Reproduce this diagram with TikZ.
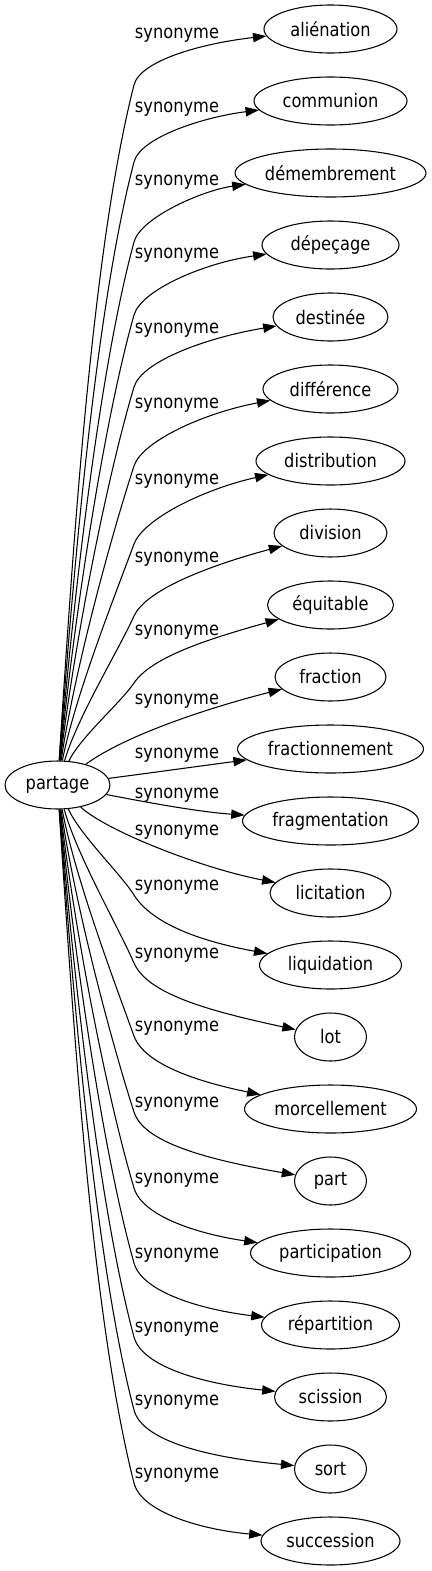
\documentclass[tikz,border=0pt]{standalone}
\usepackage{fontspec}
\setmainfont{DejaVu Sans}[FakeStretch=0.87]
\usetikzlibrary{shapes.geometric,arrows.meta}
\begin{document}
\begin{tikzpicture}[x=0.75pt,y=-0.75pt,
  ell/.style={ellipse,draw,line width=0.8pt,minimum height=36pt,inner sep=0pt,font=\fontsize{14pt}{16pt}\selectfont},
  lab/.style={inner sep=0pt,font=\fontsize{14pt}{16pt}\selectfont},
  syn/.style={draw,line width=0.8pt,-{Triangle[length=10pt,width=7pt]}}]
\useasboundingbox (0,0) rectangle (432,1571);
\node[ell,minimum width=78.75pt] (p) at (57.5,785) {partage};
\node[ell,minimum width=99.75pt] (alienation) at (330.5,29) {aliénation};
\node[ell,minimum width=114.75pt] (communion) at (330.5,101) {communion};
\node[ell,minimum width=143.25pt] (demembrement) at (330.5,173) {démembrement};
\node[ell,minimum width=102.75pt] (depecage) at (330.5,245) {dépeçage};
\node[ell,minimum width=86.25pt] (destinee) at (330.5,317) {destinée};
\node[ell,minimum width=101.25pt] (difference) at (330.5,389) {différence};
\node[ell,minimum width=111.75pt] (distribution) at (330.5,461) {distribution};
\node[ell,minimum width=84.75pt] (division) at (330.5,533) {division};
\node[ell,minimum width=94.5pt] (equitable) at (330.5,605) {équitable};
\node[ell,minimum width=83.25pt] (fraction) at (330.5,677) {fraction};
\node[ell,minimum width=139.5pt] (fractionnement) at (330.5,749) {fractionnement};
\node[ell,minimum width=132pt] (fragmentation) at (330.5,821) {fragmentation};
\node[ell,minimum width=90.75pt] (licitation) at (330.5,893) {licitation};
\node[ell,minimum width=106.5pt] (liquidation) at (330.5,965) {liquidation};
\node[ell,minimum width=54pt] (lot) at (330.5,1037) {lot};
\node[ell,minimum width=129pt] (morcellement) at (330.5,1109) {morcellement};
\node[ell,minimum width=54pt] (part) at (330.5,1181) {part};
\node[ell,minimum width=120pt] (participation) at (330.5,1253) {participation};
\node[ell,minimum width=103.5pt] (repartition) at (330.5,1325) {répartition};
\node[ell,minimum width=84pt] (scission) at (330.5,1397) {scission};
\node[ell,minimum width=54pt] (sort) at (330.5,1469) {sort};
\node[ell,minimum width=104.25pt] (succession) at (330.5,1541) {succession};
% upper edges
\foreach \tn/\lb/\qK in {alienation/33/85, communion/107/162, demembrement/180/242, depecage/253/315, destinee/328/387, difference/403/466, distribution/479/544, division/557/616, equitable/630/683}{
  \pgfmathsetmacro\qD{761-\qK}
  \pgfmathsetmacro\qm{74/\qD}
  \pgfmathsetmacro\qs{\qm*(0.5+0.4*min(1,100/\qD))}
  \pgfmathsetmacro\qt{0.2+0.5*\qm}
  \pgfmathsetmacro\qax{60+\qs*0.3*\qD}
  \pgfmathsetmacro\qay{761-0.3*\qD}
  \pgfmathsetmacro\qbx{134-\qt*0.25*\qD}
  \pgfmathsetmacro\qby{\qK+0.25*\qD}
  \pgfmathsetmacro\qcx{134+\qt*25}
  \pgfmathsetmacro\qcy{\qK-25}
  \pgfmathsetmacro\qdy{\lb+10}
  \draw[syn] (p) .. controls (\qax,\qay) and (\qbx,\qby) .. (134,\qK) .. controls (\qcx,\qcy) and (204,\qdy) .. (\tn);
  \node[lab] (l-\tn) at (177,\lb+2) {synonyme};
}
% middle edges
\draw[syn] (p) .. controls (127,734) and (215,706) .. (fraction);
\node[lab] (l-fraction) at (177,701) {synonyme};
\draw[syn] (p) .. controls (150,773) and (200,766) .. (fractionnement);
\node[lab] (l-fractionnement) at (177,755) {synonyme};
\draw[syn] (p) .. controls (150,803) and (200,812) .. (fragmentation);
\node[lab] (l-fragmentation) at (177,795) {synonyme};
\draw[syn] (p) .. controls (105,830) and (200,868) .. (licitation);
\node[lab] (l-licitation) at (177,832) {synonyme};
% lower edges
\foreach \tn/\lb in {liquidation/885, lot/953, morcellement/1026, part/1102, participation/1178, repartition/1253, scission/1327, sort/1400, succession/1473}{
  \pgfmathsetmacro\qK{\lb+10}
  \pgfmathsetmacro\qD{\qK-809}
  \pgfmathsetmacro\qm{74/\qD}
  \pgfmathsetmacro\qs{\qm*(0.5+0.4*min(1,100/\qD))}
  \pgfmathsetmacro\qt{0.2+0.5*\qm}
  \pgfmathsetmacro\qax{60+\qs*0.3*\qD}
  \pgfmathsetmacro\qay{809+0.3*\qD}
  \pgfmathsetmacro\qbx{134-\qt*0.25*\qD}
  \pgfmathsetmacro\qby{\qK-0.25*\qD}
  \pgfmathsetmacro\qcx{134+\qt*30}
  \pgfmathsetmacro\qcy{\qK+30}
  \pgfmathsetmacro\qdy{\lb+57}
  \draw[syn] (p) .. controls (\qax,\qay) and (\qbx,\qby) .. (134,\qK) .. controls (\qcx,\qcy) and (204,\qdy) .. (\tn);
  \node[lab] (l-\tn) at (177,\lb+2) {synonyme};
}
\end{tikzpicture}
\end{document}
